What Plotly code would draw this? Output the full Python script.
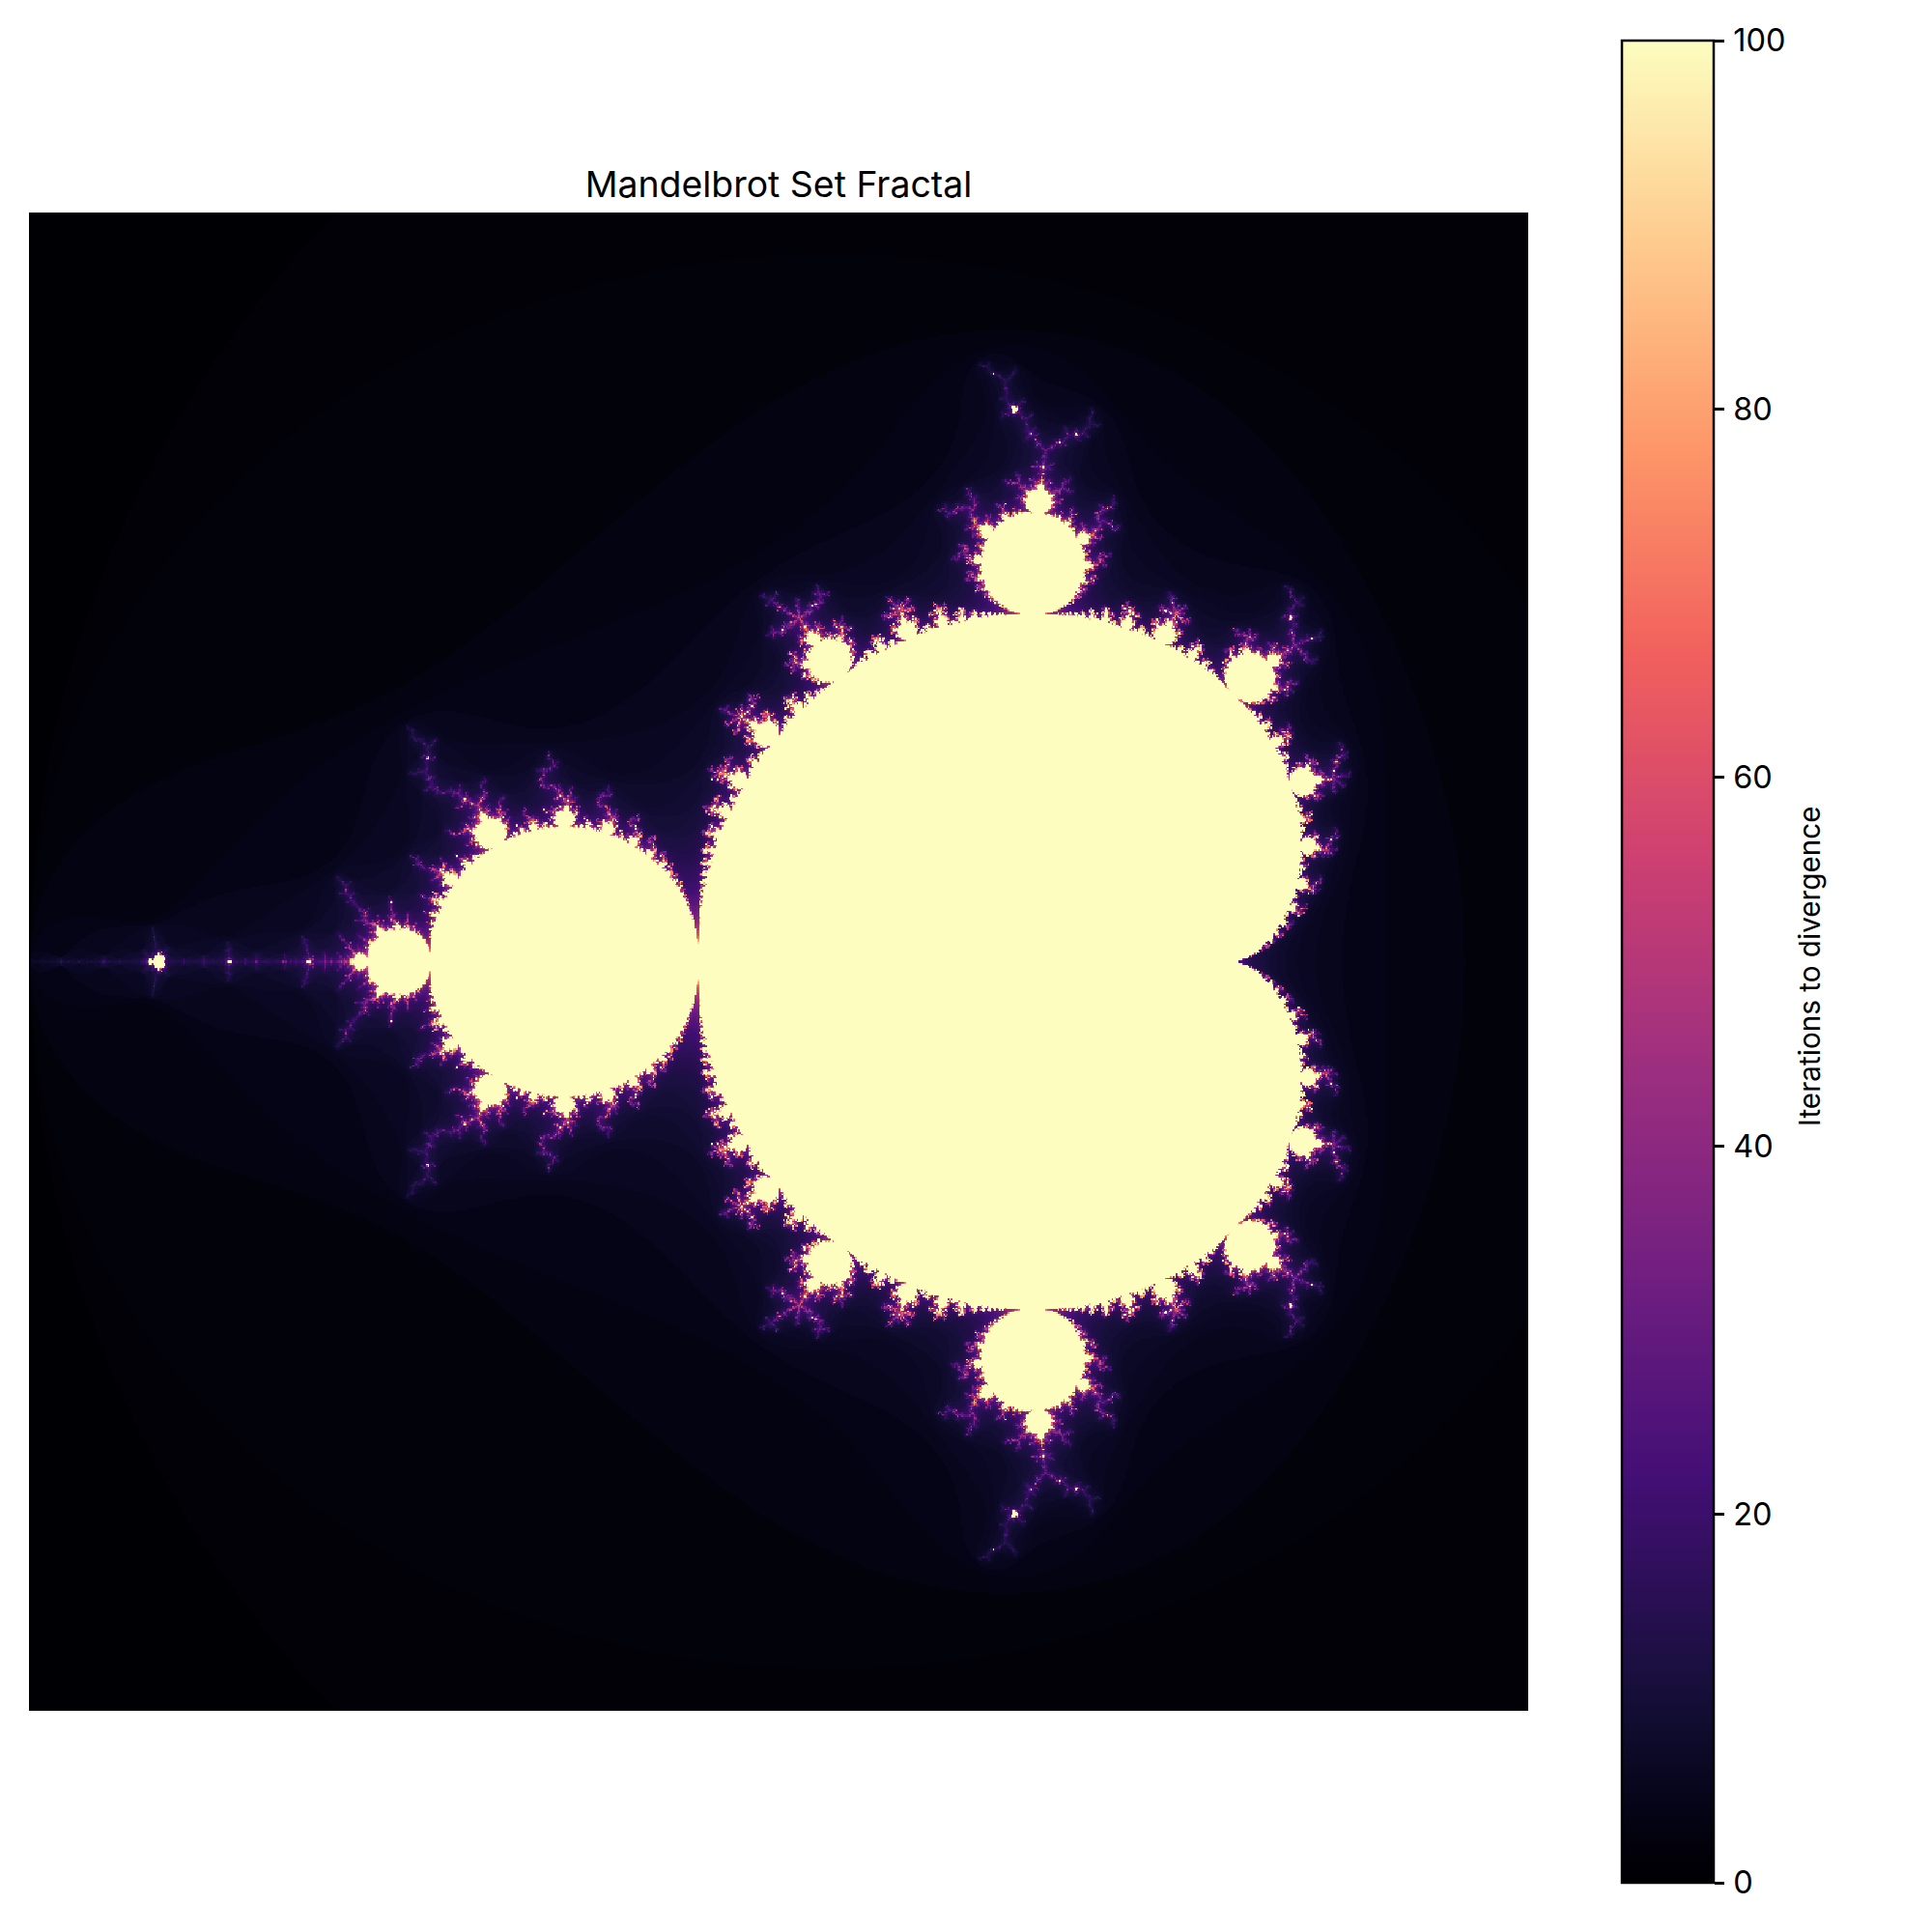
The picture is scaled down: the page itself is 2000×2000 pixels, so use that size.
import numpy as np
import plotly.graph_objects as go

TITLE = "Mandelbrot Set Fractal"
CBAR_TITLE = "Iterations to divergence"
X_EXTENT = [-2.0, 0.8]
Y_EXTENT = [-1.4, 1.4]
GRID_SIZE = 1000
MAX_ITER = 100
CBAR_TICKS = [0, 20, 40, 60, 80, 100]
MAGMA_POS = [0, 4, 8, 12, 16, 20, 24, 28, 56.67, 85, 113.33, 141.67, 170, 198.33, 226.67, 255]
MAGMA = ["#000004", "#020109", "#030312", "#06051a", "#0a0822", "#0e0b2b", "#130d34",
         "#180f3d", "#440f76", "#721f81", "#9e2f7f", "#cd4071", "#f1605d", "#fd9668",
         "#feca8d", "#fcfdbf"]

# The picture is an escape-time image: its cell values are defined by the iteration.
re = np.linspace(X_EXTENT[0], X_EXTENT[1], GRID_SIZE)
im = np.linspace(Y_EXTENT[0], Y_EXTENT[1], GRID_SIZE)
c = re[None, :] + 1j * im[:, None]
z = c.copy()
counts = np.full(c.shape, MAX_ITER, dtype=float)
alive = np.ones(c.shape, dtype=bool)
for n in range(MAX_ITER):
    escaped = alive & (np.abs(z) > 2)
    counts[escaped] = n
    alive &= ~escaped
    z[alive] = z[alive] ** 2 + c[alive]

dx = (X_EXTENT[1] - X_EXTENT[0]) / GRID_SIZE
dy = (Y_EXTENT[1] - Y_EXTENT[0]) / GRID_SIZE

W = H = 2000
FONT = "Inter"
fig = go.Figure(go.Heatmap(
    z=counts, x0=X_EXTENT[0] + dx / 2, dx=dx, y0=Y_EXTENT[0] + dy / 2, dy=dy,
    zmin=0, zmax=MAX_ITER, zsmooth=False,
    colorscale=[[p / 255, col] for p, col in zip(MAGMA_POS, MAGMA)],
    colorbar=dict(
        thicknessmode="pixels", thickness=95, lenmode="pixels", len=1907,
        x=1679 / W, xanchor="left", y=1 - 995.5 / H, yanchor="middle",
        xpad=0, ypad=0, outlinewidth=2.5, outlinecolor="black",
        tickmode="array", tickvals=CBAR_TICKS,
        ticktext=["\u200a" + str(t) for t in CBAR_TICKS],
        ticks="outside", ticklen=10, tickwidth=2.5, tickcolor="black",
        tickfont=dict(family=FONT, size=32.5, color="black"),
    ),
))
fig.add_annotation(
    text=CBAR_TITLE, xref="paper", yref="paper", x=1873 / W, y=1 - 1000 / H,
    xanchor="center", yanchor="middle", textangle=-90, showarrow=False,
    font=dict(family=FONT, size=29.7, color="black"),
)
fig.update_layout(
    width=W, height=H, margin=dict(l=0, r=0, t=0, b=0, autoexpand=False),
    paper_bgcolor="white", plot_bgcolor="black",
    title=dict(text=TITLE, x=806 / W, xanchor="center", y=1 - 204 / H, yanchor="bottom",
               font=dict(family=FONT, size=37.4, color="black")),
    xaxis=dict(visible=False, range=X_EXTENT, domain=[30 / W, 1582 / W]),
    yaxis=dict(visible=False, range=Y_EXTENT, domain=[1 - 1771 / H, 1 - 220 / H]),
)
fig.write_html("out.html", post_script="document.body.style.margin='0';",
               config={"displayModeBar": False})
